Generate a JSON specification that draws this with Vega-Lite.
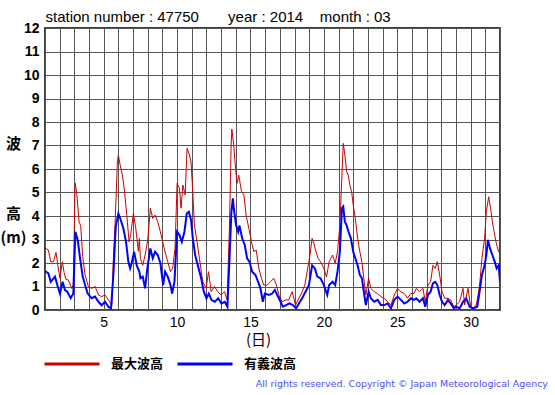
{
  "$schema": "https://vega.github.io/schema/vega-lite/v6.json",
  "width": 455,
  "height": 282,
  "autosize": {"type": "none"},
  "padding": {"left": 45, "top": 28, "right": 55, "bottom": 85},
  "background": "white",
  "title": {
    "text": "All rights reserved. Copyright © Japan Meteorological Agency",
    "orient": "bottom",
    "anchor": "end",
    "dx": 48,
    "offset": 8,
    "font": "DejaVu Sans",
    "fontSize": 9.5,
    "fontWeight": "normal",
    "color": "#4d4dff"
  },
  "config": {
    "view": {"stroke": "black", "strokeWidth": 1.5}
  },
  "datasets": {
    "max": [
      {"d":1.0,"v":2.65},{"d":1.23,"v":2.55},{"d":1.39,"v":2.05},{"d":1.57,"v":2.05},{"d":1.75,"v":2.45},{"d":1.91,"v":1.75},{"d":2.02,"v":1.35},{"d":2.18,"v":2.05},{"d":2.3,"v":1.6},{"d":2.43,"v":1.3},{"d":2.59,"v":1.28},{"d":2.82,"v":0.92},{"d":2.93,"v":1.06},{"d":3.05,"v":5.4},{"d":3.16,"v":5.0},{"d":3.32,"v":3.75},{"d":3.43,"v":3.6},{"d":3.57,"v":2.27},{"d":3.73,"v":1.5},{"d":3.95,"v":1.0},{"d":4.18,"v":0.92},{"d":4.41,"v":1.0},{"d":4.64,"v":0.64},{"d":4.86,"v":0.57},{"d":5.09,"v":0.64},{"d":5.32,"v":0.43},{"d":5.55,"v":0.2},{"d":5.66,"v":2.2},{"d":5.77,"v":3.6},{"d":5.93,"v":6.3},{"d":6.0,"v":6.6},{"d":6.11,"v":6.2},{"d":6.27,"v":5.75},{"d":6.41,"v":5.1},{"d":6.57,"v":4.05},{"d":6.73,"v":2.9},{"d":6.84,"v":3.2},{"d":7.02,"v":4.1},{"d":7.18,"v":3.5},{"d":7.36,"v":2.5},{"d":7.43,"v":3.05},
      {"d":7.5,"v":2.2},{"d":7.66,"v":1.9},{"d":7.82,"v":2.34},{"d":8.0,"v":2.98},{"d":8.18,"v":4.33},{"d":8.34,"v":3.9},{"d":8.5,"v":4.04},{"d":8.68,"v":3.76},{"d":8.86,"v":3.33},{"d":9.02,"v":2.9},{"d":9.18,"v":2.48},{"d":9.36,"v":2.06},{"d":9.55,"v":1.63},{"d":9.7,"v":1.77},{"d":9.86,"v":2.62},{"d":10.0,"v":5.39},{"d":10.16,"v":5.18},{"d":10.27,"v":4.33},{"d":10.39,"v":5.32},{"d":10.55,"v":4.9},{"d":10.68,"v":6.88},{"d":10.84,"v":6.6},{"d":10.95,"v":6.3},{"d":11.07,"v":5.0},{"d":11.18,"v":3.6},{"d":11.36,"v":2.9},{"d":11.52,"v":2.2},{"d":11.75,"v":1.2},{"d":11.98,"v":0.92},{"d":12.14,"v":1.63},{"d":12.32,"v":0.78},{"d":12.55,"v":1.0},{"d":12.77,"v":0.78},{"d":13.0,"v":0.64},{"d":13.23,"v":0.78},{"d":13.41,"v":0.43},{"d":13.57,"v":3.6},{"d":13.68,"v":7.0},{"d":13.73,"v":7.7},
      {"d":13.86,"v":7.0},{"d":13.98,"v":6.03},{"d":14.09,"v":5.39},{"d":14.2,"v":5.74},{"d":14.39,"v":5.03},{"d":14.55,"v":4.9},{"d":14.7,"v":4.04},{"d":14.89,"v":3.47},{"d":15.07,"v":2.9},{"d":15.23,"v":2.48},{"d":15.39,"v":2.55},{"d":15.57,"v":1.77},{"d":15.75,"v":1.35},{"d":15.9,"v":1.06},{"d":16.14,"v":1.06},{"d":16.36,"v":1.2},{"d":16.59,"v":1.35},{"d":16.77,"v":1.06},{"d":16.93,"v":0.64},{"d":17.16,"v":0.35},{"d":17.39,"v":0.43},{"d":17.61,"v":0.43},{"d":17.84,"v":0.78},{"d":18.07,"v":0.21},{"d":18.3,"v":0.5},{"d":18.52,"v":0.78},{"d":18.7,"v":1.06},{"d":18.86,"v":1.63},{"d":19.02,"v":2.2},{"d":19.2,"v":3.05},{"d":19.32,"v":2.84},{"d":19.43,"v":2.55},{"d":19.61,"v":2.2},{"d":19.77,"v":2.06},{"d":20.0,"v":1.77},{"d":20.18,"v":1.4},
      {"d":20.36,"v":2.06},{"d":20.59,"v":2.34},{"d":20.77,"v":2.0},{"d":20.93,"v":2.48},{"d":21.09,"v":3.6},{"d":21.23,"v":5.74},{"d":21.32,"v":7.09},{"d":21.43,"v":6.6},{"d":21.55,"v":5.89},{"d":21.66,"v":5.74},{"d":21.77,"v":5.32},{"d":21.89,"v":5.03},{"d":22.0,"v":4.47},{"d":22.14,"v":3.9},{"d":22.3,"v":3.05},{"d":22.45,"v":2.48},{"d":22.59,"v":2.06},{"d":22.75,"v":1.2},{"d":22.86,"v":0.64},{"d":23.05,"v":1.35},{"d":23.2,"v":0.92},{"d":23.43,"v":0.78},{"d":23.66,"v":0.7},{"d":23.89,"v":0.57},{"d":24.11,"v":0.5},{"d":24.34,"v":0.35},{"d":24.57,"v":0.21},{"d":24.8,"v":0.64},{"d":25.02,"v":0.92},{"d":25.25,"v":0.78},{"d":25.48,"v":0.7},{"d":25.7,"v":0.5},{"d":25.93,"v":0.7},
      {"d":26.14,"v":0.7},{"d":26.3,"v":0.92},{"d":26.52,"v":0.78},{"d":26.75,"v":0.92},{"d":26.91,"v":0.35},{"d":27.09,"v":1.06},{"d":27.27,"v":1.2},{"d":27.43,"v":1.9},{"d":27.59,"v":1.77},{"d":27.73,"v":2.06},{"d":27.89,"v":1.49},{"d":28.05,"v":0.78},{"d":28.23,"v":0.5},{"d":28.45,"v":0.5},{"d":28.64,"v":0.43},{"d":28.86,"v":0.14},{"d":29.02,"v":0.21},{"d":29.25,"v":0.35},{"d":29.48,"v":0.92},{"d":29.59,"v":0.21},{"d":29.82,"v":0.92},{"d":30.0,"v":0.14},{"d":30.16,"v":0.07},{"d":30.39,"v":0.21},{"d":30.61,"v":1.06},{"d":30.77,"v":2.2},{"d":30.95,"v":3.05},{"d":31.07,"v":4.18},{"d":31.23,"v":4.82},{"d":31.36,"v":4.33},{"d":31.48,"v":3.76},{"d":31.64,"v":3.19},{"d":31.77,"v":2.77},{"d":31.91,"v":2.48},{"d":32.0,"v":2.6}
    ],
    "sig": [
      {"d":1.0,"v":1.66},{"d":1.23,"v":1.56},{"d":1.39,"v":1.2},{"d":1.68,"v":1.42},{"d":1.84,"v":1.06},{"d":2.02,"v":0.7},{"d":2.2,"v":1.2},{"d":2.36,"v":0.85},{"d":2.52,"v":0.78},{"d":2.75,"v":0.5},{"d":2.93,"v":0.7},{"d":3.07,"v":3.33},{"d":3.23,"v":2.98},{"d":3.39,"v":2.2},{"d":3.57,"v":1.42},{"d":3.73,"v":1.06},{"d":3.91,"v":0.7},{"d":4.18,"v":0.5},{"d":4.41,"v":0.57},{"d":4.64,"v":0.35},{"d":4.86,"v":0.2},{"d":5.09,"v":0.35},{"d":5.32,"v":0.14},{"d":5.5,"v":0.07},{"d":5.66,"v":1.5},{"d":5.82,"v":3.55},{"d":6.0,"v":4.1},{"d":6.16,"v":3.83},{"d":6.34,"v":3.47},{"d":6.52,"v":2.9},{"d":6.68,"v":2.05},{"d":6.8,"v":1.77},{"d":6.91,"v":2.0},{"d":7.07,"v":2.48},{"d":7.25,"v":1.9},{"d":7.43,"v":1.63},
      {"d":7.5,"v":1.35},{"d":7.66,"v":1.42},{"d":7.82,"v":0.92},{"d":8.0,"v":1.9},{"d":8.18,"v":2.62},{"d":8.34,"v":2.2},{"d":8.5,"v":2.48},{"d":8.68,"v":2.34},{"d":8.86,"v":2.0},{"d":9.05,"v":1.06},{"d":9.18,"v":1.63},{"d":9.36,"v":1.42},{"d":9.55,"v":1.06},{"d":9.66,"v":0.7},{"d":9.82,"v":1.2},{"d":10.0,"v":3.33},{"d":10.16,"v":3.19},{"d":10.32,"v":2.9},{"d":10.5,"v":3.33},{"d":10.66,"v":4.11},{"d":10.8,"v":4.18},{"d":10.95,"v":3.83},{"d":11.07,"v":3.05},{"d":11.23,"v":2.34},{"d":11.41,"v":1.9},{"d":11.64,"v":1.35},{"d":11.82,"v":0.78},{"d":12.0,"v":0.5},{"d":12.16,"v":0.7},{"d":12.34,"v":0.43},{"d":12.57,"v":0.35},{"d":12.8,"v":0.5},{"d":13.02,"v":0.28},{"d":13.25,"v":0.35},{"d":13.43,"v":0.14},{"d":13.59,"v":2.48},{"d":13.7,"v":4.18},{"d":13.8,"v":4.75},
      {"d":13.86,"v":4.33},{"d":14.02,"v":3.6},{"d":14.16,"v":3.33},{"d":14.25,"v":3.6},{"d":14.43,"v":3.05},{"d":14.61,"v":2.77},{"d":14.77,"v":2.2},{"d":14.93,"v":2.06},{"d":15.11,"v":1.63},{"d":15.34,"v":1.49},{"d":15.52,"v":1.2},{"d":15.68,"v":0.92},{"d":15.84,"v":0.35},{"d":15.98,"v":0.7},{"d":16.25,"v":0.64},{"d":16.48,"v":0.7},{"d":16.66,"v":0.85},{"d":16.82,"v":0.64},{"d":17.05,"v":0.35},{"d":17.2,"v":0.14},{"d":17.43,"v":0.21},{"d":17.66,"v":0.28},{"d":17.89,"v":0.21},{"d":18.11,"v":0.07},{"d":18.3,"v":0.28},{"d":18.52,"v":0.5},{"d":18.75,"v":0.78},{"d":18.98,"v":1.06},{"d":19.2,"v":1.9},{"d":19.39,"v":1.77},{"d":19.55,"v":1.42},{"d":19.77,"v":1.35},{"d":20.0,"v":1.06},{"d":20.23,"v":0.64},
      {"d":20.36,"v":1.06},{"d":20.59,"v":1.2},{"d":20.77,"v":1.06},{"d":20.93,"v":1.63},{"d":21.09,"v":2.48},{"d":21.23,"v":4.33},{"d":21.32,"v":4.4},{"d":21.43,"v":3.76},{"d":21.55,"v":3.6},{"d":21.68,"v":3.33},{"d":21.84,"v":3.05},{"d":22.0,"v":2.48},{"d":22.14,"v":2.2},{"d":22.3,"v":1.9},{"d":22.45,"v":1.49},{"d":22.59,"v":1.35},{"d":22.75,"v":0.64},{"d":22.86,"v":0.21},{"d":23.05,"v":0.78},{"d":23.2,"v":0.5},{"d":23.43,"v":0.35},{"d":23.66,"v":0.43},{"d":23.89,"v":0.21},{"d":24.11,"v":0.21},{"d":24.34,"v":0.28},{"d":24.57,"v":0.07},{"d":24.8,"v":0.43},{"d":25.02,"v":0.57},{"d":25.25,"v":0.43},{"d":25.48,"v":0.28},{"d":25.7,"v":0.35},{"d":25.93,"v":0.5},
      {"d":26.14,"v":0.43},{"d":26.3,"v":0.5},{"d":26.52,"v":0.35},{"d":26.75,"v":0.5},{"d":26.91,"v":0.14},{"d":27.09,"v":0.64},{"d":27.27,"v":0.78},{"d":27.43,"v":1.13},{"d":27.59,"v":1.2},{"d":27.73,"v":1.06},{"d":27.89,"v":0.64},{"d":28.05,"v":0.35},{"d":28.23,"v":0.21},{"d":28.45,"v":0.43},{"d":28.64,"v":0.28},{"d":28.86,"v":0.07},{"d":29.02,"v":0.14},{"d":29.25,"v":0.07},{"d":29.48,"v":0.35},{"d":29.7,"v":0.5},{"d":29.93,"v":0.14},{"d":30.16,"v":0.07},{"d":30.45,"v":0.14},{"d":30.61,"v":0.78},{"d":30.77,"v":1.49},{"d":30.95,"v":1.9},{"d":31.07,"v":2.34},{"d":31.18,"v":2.98},{"d":31.32,"v":2.62},{"d":31.48,"v":2.34},{"d":31.64,"v":2.06},{"d":31.77,"v":1.77},{"d":31.91,"v":1.9},{"d":32.0,"v":1.2}
    ]
  },
  "encoding": {
    "y": {
      "field": "v", "type": "quantitative",
      "scale": {"domain": [0, 12], "nice": false},
      "axis": {
        "values": [0,1,2,3,4,5,6,7,8,9,10,11,12],
        "labelOverlap": false,
        "grid": true, "gridColor": "#555555", "gridWidth": 1, "gridOpacity": 1,
        "ticks": false, "domain": false,
        "labelFont": "Liberation Sans", "labelFontSize": 14, "labelFontWeight": "bold", "labelColor": "black", "labelPadding": 6,
        "title": ["波", "\u200b", "\u2800", "高", "(m)"],
        "titleAngle": 0, "titleFont": "Noto Sans CJK JP", "titleFontSize": 15, "titleFontWeight": "bold", "titleColor": "black",
        "titleLineHeight": 23.5, "titleX": -32, "titleY": 115, "titleAlign": "center", "titleBaseline": "middle"
      }
    }
  },
  "layer": [
    {
      "data": {"name": "max"},
      "mark": {"type": "line", "strokeWidth": 1, "clip": true},
      "encoding": {
        "x": {
          "field": "d", "type": "quantitative",
          "scale": {"domain": [1, 32], "nice": false, "zero": false},
          "axis": {
            "orient": "bottom",
            "values": [5, 10, 15, 20, 25, 30],
            "grid": false, "ticks": false, "domain": false,
            "labelFont": "Liberation Sans", "labelFontSize": 14, "labelColor": "black", "labelPadding": 5,
            "title": "(日)", "titleFont": "Noto Sans CJK JP", "titleFontSize": 15, "titleFontWeight": "normal", "titleColor": "black",
            "titleX": 213, "titleY": 29, "titleAlign": "center", "titleBaseline": "middle"
          }
        },
        "color": {
          "datum": "最大波高", "type": "nominal",
          "scale": {"domain": ["最大波高", "有義波高"], "range": ["#cc0000", "#0000ff"]},
          "legend": {
            "orient": "none", "legendX": -2, "legendY": 307, "direction": "horizontal",
            "title": null, "padding": 0,
            "symbolType": "stroke", "symbolSize": 3025, "symbolStrokeWidth": 3,
            "labelFont": "Noto Sans CJK JP", "labelFontSize": 13, "labelFontWeight": "bold", "labelColor": "black",
            "labelOffset": 10, "columnPadding": 7
          }
        }
      }
    },
    {
      "data": {"name": "sig"},
      "mark": {"type": "line", "strokeWidth": 2, "clip": true},
      "encoding": {
        "x": {
          "field": "d", "type": "quantitative",
          "axis": {
            "orient": "top",
            "values": [1,2,3,4,5,6,7,8,9,10,11,12,13,14,15,16,17,18,19,20,21,22,23,24,25,26,27,28,29,30,31,32],
            "grid": true, "gridColor": "#555555", "gridWidth": 1, "gridOpacity": 1,
            "labels": false, "ticks": false, "domain": false,
            "title": "station number : 47750\u00a0\u00a0\u00a0\u00a0\u00a0\u00a0\u00a0year : 2014\u00a0\u00a0\u00a0\u00a0month : 03",
            "titleFont": "Liberation Sans", "titleFontSize": 15, "titleFontWeight": "normal", "titleColor": "black",
            "titleX": 0, "titleY": -7, "titleAlign": "left", "titleBaseline": "alphabetic"
          }
        },
        "color": {"datum": "有義波高", "type": "nominal"}
      }
    }
  ],
  "resolve": {"axis": {"x": "independent"}}
}
